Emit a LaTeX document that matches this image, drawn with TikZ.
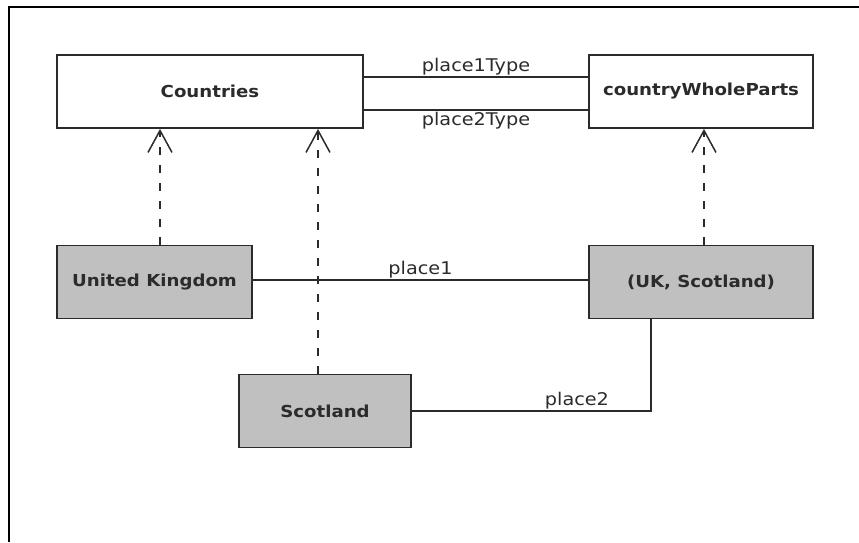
\documentclass[tikz,border=0pt]{standalone}
\usepackage{fontspec}
\setmainfont{DejaVu Sans}[FakeStretch=1.1]
\usetikzlibrary{arrows.meta}
\definecolor{ink}{HTML}{2B2B2B}
\definecolor{instfill}{HTML}{C0C0C0}
\tikzset{
  box/.style={draw=ink, line width=1.8pt, inner sep=0pt, minimum height=73pt,
              font=\fontsize{16.5}{18}\selectfont\bfseries, text=ink},
  classbox/.style={box, fill=white},
  instbox/.style={box, fill=instfill},
  assoc/.style={draw=ink, line width=1.5pt},
  lbl/.style={font=\fontsize{17.5}{19}\selectfont, text=ink, inner sep=1.5pt},
  realize/.style={draw=ink, line width=1.5pt, dash pattern=on 8pt off 10pt,
                  -{Straight Barb[length=22pt,width=24pt,line width=1.5pt]}},
}
\begin{document}
\begin{tikzpicture}[x=1pt,y=-1pt]
  \useasboundingbox (0,0) rectangle (859,542);
  % outer frame (top and left edges)
  \draw[black, line width=2pt] (9,542) -- (9,7) -- (859,7);

  % class boxes
  \node[classbox, minimum width=306pt] (countries) at (210,91.5) {Countries};
  \node[classbox, minimum width=224pt] (cwp) at (701,91.5) {countryWholeParts};

  % instance boxes
  \node[instbox, minimum width=195pt] (uk) at (154.5,282) {United Kingdom};
  \node[instbox, minimum width=224pt] (uks) at (701,282) {(UK, Scotland)};
  \node[instbox, minimum width=172pt] (scot) at (325,411) {Scotland};

  % associations between the classes
  \path (countries.east) ++(0,-14.5) coordinate (t1a);
  \path (countries.east) ++(0,18.5) coordinate (t2a);
  \draw[assoc] (t1a) -- node[lbl, above] {place1Type} (t1a -| cwp.west);
  \draw[assoc] (t2a) -- node[lbl, below] {place2Type} (t2a -| cwp.west);

  % links between the instances
  \path (uk.east) ++(0,-2) coordinate (p1a);
  \draw[assoc] (p1a) -- node[lbl, above, inner sep=1pt] {place1} (p1a -| uks.west);
  \path (uks.south west) ++(63,0) coordinate (p2b);
  \draw[assoc] (scot.east) -| node[lbl, above, pos=0.345] {place2} (p2b);

  % instance-of arrows
  \path (uk.north) ++(5.5,0) coordinate (r1);
  \draw[realize] (r1) -- (r1 |- countries.south);
  \path (scot.north) ++(-7,0) coordinate (r2);
  \draw[realize] (r2) -- (r2 |- countries.south);
  \path (uks.north) ++(3,0) coordinate (r3);
  \draw[realize] (r3) -- (r3 |- cwp.south);
\end{tikzpicture}
\end{document}
